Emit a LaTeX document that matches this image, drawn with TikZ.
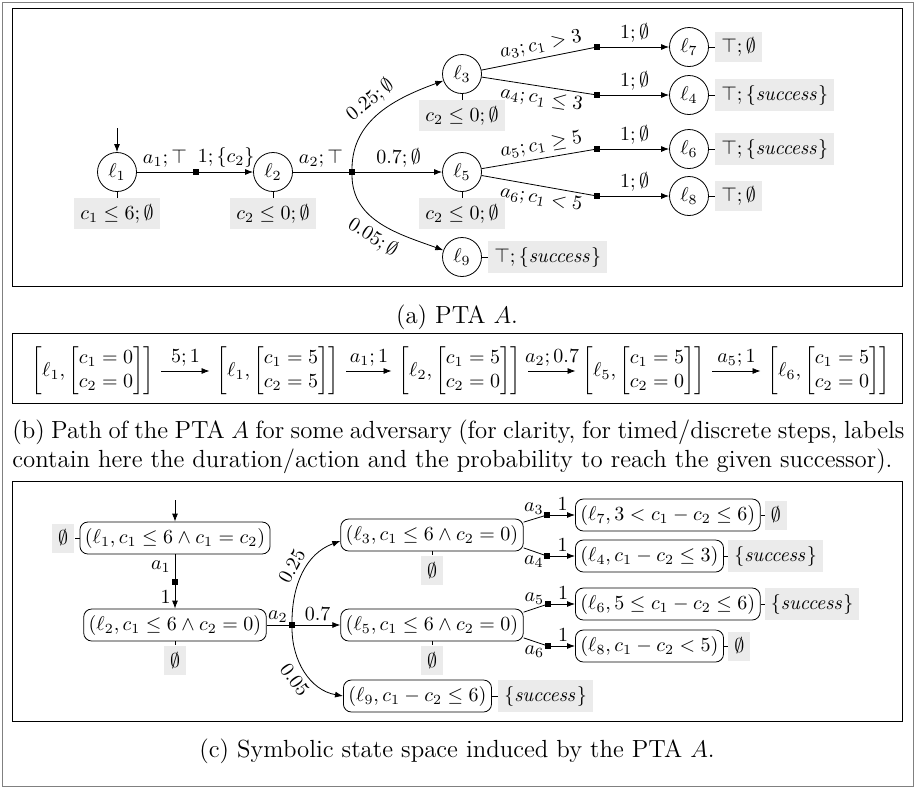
\documentclass[tikz,border=0pt]{standalone}
\usepackage{amsmath,amssymb}
\usetikzlibrary{positioning,arrows.meta}
\newcommand{\capfont}{\fontsize{12.4}{14.6}\selectfont}
\newcommand{\succlbl}{\{\mathit{success}\}}
\tikzset{
  loc/.style={draw, circle, minimum size=19.5pt, inner sep=0pt},
  symb/.style={draw, rounded corners=4pt, inner xsep=2.5pt, inner ysep=3pt},
  inv/.style={fill=black!8, inner sep=3pt, minimum height=14.5pt},
  junc/.style={fill=black, inner sep=0pt, minimum size=2.6pt},
  trans/.style={-{Latex[length=4pt,width=3pt]}},
  lab/.style={inner sep=2pt},
}
\begin{document}
\begin{tikzpicture}[x=0.5pt, y=0.5pt]
    \useasboundingbox (0,0) rectangle (915,-788);
    \draw[black!50] (2,-2) rectangle (913,-786);
    % (a) the PTA
    \draw (12,-8) rectangle (902,-286);
    \node[loc] (l1) at (117,-172) {$\ell_1$};
    \node[loc] (l2) at (273,-172) {$\ell_2$};
    \node[loc] (l3) at (462,-74) {$\ell_3$};
    \node[loc] (l5) at (462,-172) {$\ell_5$};
    \node[loc] (l9) at (462,-257) {$\ell_9$};
    \node[loc] (l7) at (689,-47) {$\ell_7$};
    \node[loc] (l4) at (689,-95) {$\ell_4$};
    \node[loc] (l6) at (689,-149) {$\ell_6$};
    \node[loc] (l8) at (689,-196) {$\ell_8$};
    % branching points
    \node[junc] (j1) at (196,-172) {};
    \node[junc] (j2) at (352,-172) {};
    \node[junc] (j3) at (597,-47) {};
    \node[junc] (j4) at (597,-95) {};
    \node[junc] (j5) at (597,-149) {};
    \node[junc] (j6) at (597,-196) {};
    % invariants and updates
    \node[inv, below=3pt of l1] (i1) {$c_1 \le 6;\emptyset$};
    \node[inv, below=3pt of l2] (i2) {$c_2 \le 0;\emptyset$};
    \node[inv, below=3pt of l3] (i3) {$c_2 \le 0;\emptyset$};
    \node[inv, below=3pt of l5] (i5) {$c_2 \le 0;\emptyset$};
    \node[inv, right=3pt of l7] (i7) {$\top;\emptyset$};
    \node[inv, right=3pt of l4] (i4) {$\top;\succlbl$};
    \node[inv, right=3pt of l6] (i6) {$\top;\succlbl$};
    \node[inv, right=3pt of l8] (i8) {$\top;\emptyset$};
    \node[inv, right=3pt of l9] (i9) {$\top;\succlbl$};
    \foreach \n in {1,2,3,5,7,4,6,8,9}
        \draw (l\n) -- (i\n);
    % edges
    \coordinate (init1) at (117,-128);
    \draw[trans] (init1) -- (l1);
    \draw (l1) -- node[lab, above] {$a_1;\top$} (j1);
    \draw[trans] (j1) -- node[lab, above] {$1;\{c_2\}$} (l2);
    \draw (l2) -- node[lab, above] {$a_2;\top$} (j2);
    \draw[trans] (j2) to[out=90, in=200] node[above, sloped, inner sep=3pt] {$0.25;\emptyset$} (l3);
    \draw[trans] (j2) -- node[lab, above] {$0.7;\emptyset$} (l5);
    \draw[trans] (j2) to[out=-90, in=160] node[below, sloped, inner sep=3pt] {$0.05;\emptyset$} (l9);
    \draw (l3) -- node[lab, above, sloped, pos=0.55] {$a_3;c_1 > 3$} (j3);
    \draw (l3) -- node[lab, below, sloped, pos=0.55] {$a_4;c_1 \le 3$} (j4);
    \draw (l5) -- node[lab, above, sloped, pos=0.55] {$a_5;c_1 \ge 5$} (j5);
    \draw (l5) -- node[lab, below, sloped, pos=0.55] {$a_6;c_1 < 5$} (j6);
    \draw[trans] (j3) -- node[lab, above] {$1;\emptyset$} (l7);
    \draw[trans] (j4) -- node[lab, above] {$1;\emptyset$} (l4);
    \draw[trans] (j5) -- node[lab, above] {$1;\emptyset$} (l6);
    \draw[trans] (j6) -- node[lab, above] {$1;\emptyset$} (l8);
    \node[font=\capfont] (capa) at (457,-317) {(a) PTA $A$.};
    % (b) a path
    \draw (12,-333) rectangle (902,-403);
    \foreach \n/\x/\loc/\vone/\vtwo in {1/93/1/0/0, 2/278/1/5/5, 3/460/2/5/0, 4/644/5/5/0, 5/829/6/5/0}
        \node (p\n) at (\x,-371) {$\left[\ell_{\loc}, \begin{bmatrix} c_1 = \vone\\ c_2 = \vtwo \end{bmatrix}\right]$};
    \foreach \i/\j/\t in {1/2/{5;1}, 2/3/{a_1;1}, 3/4/{a_2;0.7}, 4/5/{a_5;1}}
        \draw[trans] (p\i) -- node[lab, above] {$\t$} (p\j);
    \node[font=\capfont, align=left, anchor=west, inner sep=0pt] (capb) at (12,-447)
        {\makebox[446pt][s]{(b) Path of the PTA $A$ for some adversary (for clarity, for timed/discrete steps, labels}\\
         contain here the duration/action and the probability to reach the given successor).};
    % (c) symbolic states
    \draw (12,-481) rectangle (902,-721);
    \node[symb] (s1) at (175,-538) {$(\ell_1, c_1 \le 6 \wedge c_1 = c_2)$};
    \node[symb] (s2) at (175,-625) {$(\ell_2, c_1 \le 6 \wedge c_2 = 0)$};
    \node[symb] (s3) at (432,-535) {$(\ell_3, c_1 \le 6 \wedge c_2 = 0)$};
    \node[symb] (s5) at (432,-625) {$(\ell_5, c_1 \le 6 \wedge c_2 = 0)$};
    \node[symb, anchor=west] (s9) at (343,-696) {$(\ell_9, c_1 - c_2 \le 6)$};
    \node[junc] (k1) at (175,-582) {};
    \node[junc] (k2) at (292,-625) {};
    \node[junc] (k3) at (547,-515) {};
    \node[junc] (k4) at (547,-556) {};
    \node[junc] (k5) at (548,-604) {};
    \node[junc] (k6) at (548,-646) {};
    \node[symb, right=12.5pt of k3] (s7) {$(\ell_7, 3 < c_1 - c_2 \le 6)$};
    \node[symb, right=12.5pt of k4] (s4) {$(\ell_4, c_1 - c_2 \le 3)$};
    \node[symb, right=12pt of k5] (s6) {$(\ell_6, 5 \le c_1 - c_2 \le 6)$};
    \node[symb, right=12pt of k6] (s8) {$(\ell_8, c_1 - c_2 < 5)$};
    \node[inv, left=2.5pt of s1] (e1) {$\emptyset$};
    \node[inv, below=2pt of s2] (e2) {$\emptyset$};
    \node[inv, below=2pt of s3] (e3) {$\emptyset$};
    \node[inv, below=2pt of s5] (e5) {$\emptyset$};
    \node[inv, right=2pt of s7] (e7) {$\emptyset$};
    \node[inv, right=2pt of s4] (e4) {$\succlbl$};
    \node[inv, right=2pt of s6] (e6) {$\succlbl$};
    \node[inv, right=2pt of s8] (e8) {$\emptyset$};
    \node[inv, right=3pt of s9] (e9) {$\succlbl$};
    \foreach \n in {1,2,3,5,7,4,6,8,9}
        \draw (s\n) -- (e\n);
    \coordinate (init2) at (175,-500);
    \draw[trans] (init2) -- (s1);
    \draw (s1) -- node[lab, left] {$a_1$} (k1);
    \draw[trans] (k1) -- node[lab, left] {$1$} (s2);
    \draw (s2) -- node[above, inner sep=1pt] {$a_2$} (k2);
    \draw[trans] (k2) to[out=90, in=200] node[above, sloped, inner sep=3pt] {$0.25$} ([yshift=-3pt]s3.west);
    \draw[trans] (k2) -- node[lab, above] {$0.7$} (s5);
    \draw[trans] (k2) to[out=-90, in=170] node[below, sloped, inner sep=3pt] {$0.05$} (s9.west);
    \draw (s3.8) -- node[lab, above] {$a_3$} (k3);
    \draw (s3.-8) -- node[lab, below] {$a_4$} (k4);
    \draw (s5.8) -- node[lab, above] {$a_5$} (k5);
    \draw (s5.-8) -- node[lab, below] {$a_6$} (k6);
    \draw[trans] (k3) -- node[lab, above] {$1$} (s7);
    \draw[trans] (k4) -- node[lab, above] {$1$} (s4);
    \draw[trans] (k5) -- node[lab, above] {$1$} (s6);
    \draw[trans] (k6) -- node[lab, above] {$1$} (s8);
    \node[font=\capfont] (capc) at (457,-751) {(c) Symbolic state space induced by the PTA $A$.};
\end{tikzpicture}
\end{document}
